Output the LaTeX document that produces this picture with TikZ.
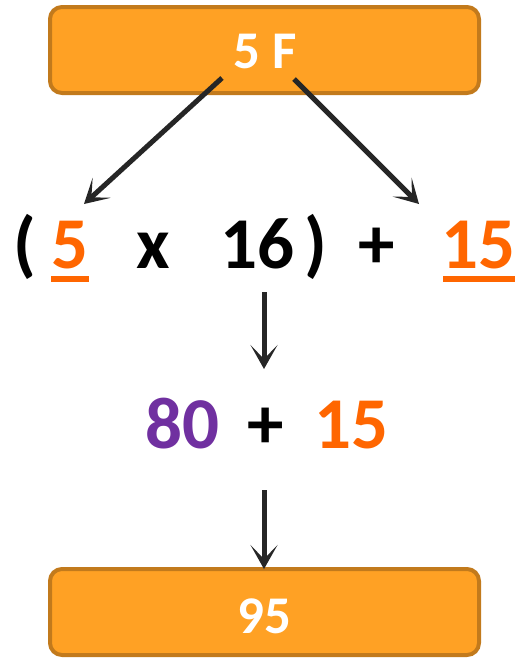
\documentclass[tikz,border=0pt]{standalone}
\usepackage{fontspec}
\setmainfont{Carlito}
\usetikzlibrary{arrows.meta}
\definecolor{boxfill}{HTML}{FFA124}
\definecolor{boxedge}{HTML}{C27A1C}
\definecolor{numorange}{HTML}{FF6600}
\definecolor{numpurple}{HTML}{7030A0}
\definecolor{arrowgray}{HTML}{262626}
\begin{document}
\begin{tikzpicture}[x=1pt,y=-1pt,
  stepbox/.style={draw=boxedge,fill=boxfill,line width=4pt,rounded corners=12pt,
    minimum width=429pt,minimum height=86pt,inner sep=0pt},
  boxtext/.style={anchor=base,inner sep=0pt,text=white,font=\bfseries\fontsize{53}{53}\selectfont},
  eqtext/.style={anchor=base,inner sep=0pt,font=\bfseries\fontsize{73}{73}\selectfont},
  conn/.style={draw=arrowgray,line width=5pt,-{Stealth[length=24pt,width=27pt,inset=14pt]}},
  uline/.style={draw=numorange,line width=5.5pt}]
\useasboundingbox (0,0) rectangle (517,659);
% boxes
\node[stepbox] (topbox) at (264.5,50) {};
\node[boxtext] (toptext) at (265,68) {5 F};
\node[stepbox] (botbox) at (264.5,612) {};
\node[boxtext] (bottext) at (264,633) {95};
% row 1
\node[eqtext] (lp) at (25,268) {(};
\node[eqtext,text=numorange] (five) at (70,268) {5};
\node[eqtext] (times) at (153,268) {x};
\node[eqtext] (sixteen) at (257,268) {16};
\node[eqtext] (rp) at (316,268) {)};
\node[eqtext] (plusa) at (377,268) {+};
\node[eqtext,text=numorange] (fifteena) at (478,268) {15};
\coordinate (u1a) at (51,279); \coordinate (u1b) at (89,279);
\coordinate (u2a) at (443,279); \coordinate (u2b) at (515,279);
\draw[uline] (u1a) -- (u1b);
\draw[uline] (u2a) -- (u2b);
% row 2
\node[eqtext,text=numpurple] (eighty) at (182,448) {80};
\node[eqtext] (plusb) at (266,448) {+};
\node[eqtext,text=numorange] (fifteenb) at (351,448) {15};
% connectors
\coordinate (s1) at (222,78); \coordinate (e1) at (84,204);
\coordinate (s2) at (294,79); \coordinate (e2) at (419,204);
\coordinate (s3) at (264,292); \coordinate (e3) at (264,369);
\coordinate (s4) at (264,490); \coordinate (e4) at (264,569);
\draw[conn] (s1) -- (e1);
\draw[conn] (s2) -- (e2);
\draw[conn] (s3) -- (e3);
\draw[conn] (s4) -- (e4);
\end{tikzpicture}
\end{document}
